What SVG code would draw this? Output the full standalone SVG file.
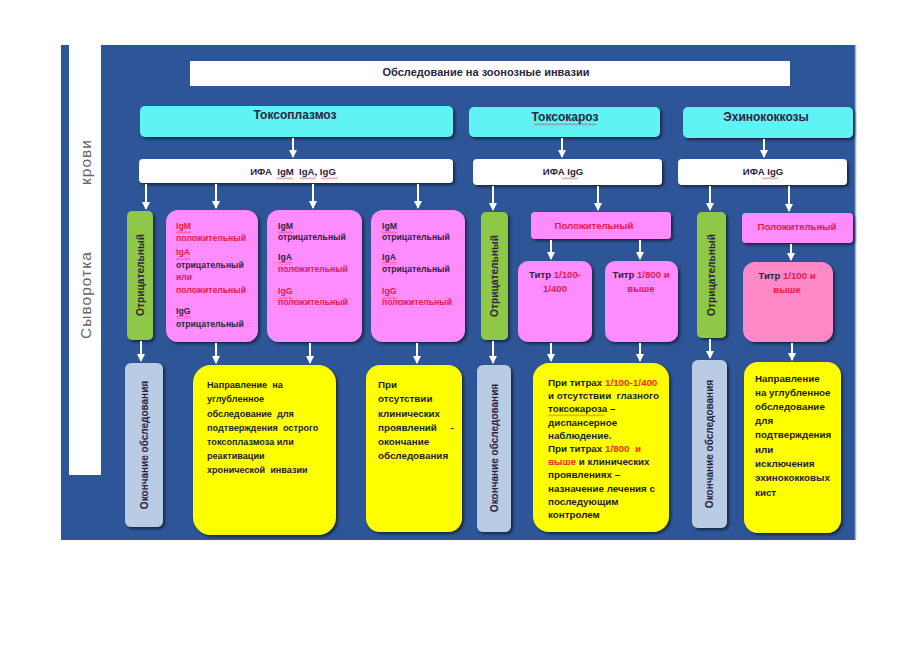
<svg xmlns="http://www.w3.org/2000/svg" width="919" height="650" viewBox="0 0 919 650">
<defs>
<filter id="sh" x="-20%" y="-20%" width="140%" height="140%">
<feDropShadow dx="2" dy="2" stdDeviation="1.5" flood-color="#000" flood-opacity="0.55"/>
</filter>
<marker id="ar" markerWidth="8" markerHeight="8" refX="7" refY="4" orient="auto" markerUnits="userSpaceOnUse" viewBox="0 0 8 8">
<path d="M0,0 L8,4 L0,8 Z" fill="#fff"/>
</marker>
<pattern id="wv" width="4" height="3" patternUnits="userSpaceOnUse">
<path d="M0,2.5 L2,0.5 L4,2.5" fill="none" stroke="#e0202a" stroke-width="0.7"/>
</pattern>
<style>
.t{font-family:"Liberation Sans",Arial,sans-serif;font-weight:bold;fill:#2b2440}
.b{font-size:9.6px}
.y{font-size:9.8px;fill:#222}
.r{fill:#e8194b}
.ry{fill:#ff2a1a}
.cy{fill:#5ef3f3;filter:url(#sh)}
.wh{fill:#fff;filter:url(#sh)}
.pk{fill:#ff8cff;filter:url(#sh)}
.gr{fill:#8fc746;filter:url(#sh)}
.lb{fill:#b9cce4;filter:url(#sh)}
.yl{fill:#ffff00;filter:url(#sh)}
.u{fill:url(#wv)}
.con line{stroke:#fff;stroke-width:2;marker-end:url(#ar)}
</style>
</defs>
<rect x="0" y="0" width="919" height="650" fill="#fff"/>
<g id="background">
<rect x="61" y="45" width="795" height="495" fill="#2e5597"/>
<line x1="855.5" y1="45" x2="855.5" y2="540" stroke="#9fb3d3" stroke-width="1.5"/>
<rect x="69" y="45" width="32" height="430" fill="#fff"/>
<text x="0" y="0" transform="translate(91,295) rotate(-90)" text-anchor="middle" font-family="Liberation Sans,Arial,sans-serif" font-size="15.5" letter-spacing="1" fill="#666">Сыворотка</text>
<text x="0" y="0" transform="translate(91,162) rotate(-90)" text-anchor="middle" font-family="Liberation Sans,Arial,sans-serif" font-size="15.5" letter-spacing="1" fill="#666">крови</text>
</g>
<g id="title">
<rect x="190" y="61" width="600" height="25" fill="#fff"/>
<text class="t" x="486" y="76" font-size="11" text-anchor="middle" fill="#222">Обследование на зоонозные инвазии</text>
</g>
<g id="toxoplasmosis">
<rect class="cy" x="140" y="106" width="313" height="31" rx="5"/>
<text class="t" x="295" y="119" font-size="12" text-anchor="middle">Токсоплазмоз</text>
</g>
<g id="toxocariasis">
<rect class="cy" x="469" y="107" width="191" height="30" rx="5"/>
<text class="t" x="565" y="121" font-size="12" text-anchor="middle">Токсокароз</text>
<rect class="u" x="534" y="123" width="62" height="3"/>
</g>
<g id="echinococcosis">
<rect class="cy" x="683" y="107" width="170" height="31" rx="5"/>
<text class="t" x="766" y="121" font-size="12" text-anchor="middle">Эхинококкозы</text>
</g>
<g id="ifa1">
<rect class="wh" x="139" y="159" width="314" height="24" rx="4"/>
<text class="t b" x="293" y="175" text-anchor="middle" xml:space="preserve">ИФА  IgM  IgA, IgG</text>
<rect class="u" x="277" y="177" width="16" height="3"/>
<rect class="u" x="300" y="177" width="16" height="3"/>
<rect class="u" x="322" y="177" width="16" height="3"/>
</g>
<g id="ifa2">
<rect class="wh" x="473" y="159" width="189" height="26" rx="4"/>
<text class="t b" x="563" y="175" text-anchor="middle">ИФА IgG</text>
<rect class="u" x="562" y="177" width="16" height="3"/>
</g>
<g id="ifa3">
<rect class="wh" x="678" y="159" width="169" height="26" rx="4"/>
<text class="t b" x="763" y="175" text-anchor="middle">ИФА IgG</text>
<rect class="u" x="762" y="177" width="16" height="3"/>
</g>
<g id="neg1">
<rect class="gr" x="127" y="211" width="26" height="129" rx="5"/>
<text class="t" transform="translate(144,275) rotate(-90)" font-size="10.2" text-anchor="middle">Отрицательный</text>
</g>
<g id="pink1">
<rect class="pk" x="166" y="210" width="92" height="132" rx="12"/>
<text class="t b" transform="matrix(0.9 0 0 1 17.6 0)"><tspan class="r" x="176" y="229">IgM</tspan><tspan class="r" x="176" y="241">положительный</tspan><tspan class="r" x="176" y="255">IgA</tspan><tspan x="176" y="268">отрицательный</tspan><tspan class="r" x="176" y="280">или</tspan><tspan class="r" x="176" y="293">положительный</tspan><tspan x="176" y="314">IgG</tspan><tspan x="176" y="327">отрицательный</tspan></text>
<rect class="u" x="176" y="231" width="15" height="3"/>
<rect class="u" x="176" y="257" width="14" height="3"/>
<rect class="u" x="176" y="316" width="14" height="3"/>
</g>
<g id="pink2">
<rect class="pk" x="267" y="210" width="95" height="132" rx="12"/>
<text class="t b" transform="matrix(0.9 0 0 1 27.8 0)"><tspan x="278" y="229">IgM</tspan><tspan x="278" y="240">отрицательный</tspan><tspan x="278" y="260">IgA</tspan><tspan class="r" x="278" y="272">положительный</tspan><tspan class="r" x="278" y="294">IgG</tspan><tspan class="r" x="278" y="305">положительный</tspan></text>
<rect class="u" x="278" y="231" width="15" height="3"/>
<rect class="u" x="278" y="262" width="14" height="3"/>
<rect class="u" x="278" y="296" width="14" height="3"/>
</g>
<g id="pink3">
<rect class="pk" x="371" y="210" width="94" height="132" rx="12"/>
<text class="t b" transform="matrix(0.9 0 0 1 38.2 0)"><tspan x="382" y="229">IgM</tspan><tspan x="382" y="240">отрицательный</tspan><tspan x="382" y="260">IgA</tspan><tspan x="382" y="272">отрицательный</tspan><tspan class="r" x="382" y="294">IgG</tspan><tspan class="r" x="382" y="305">положительный</tspan></text>
<rect class="u" x="382" y="231" width="15" height="3"/>
<rect class="u" x="382" y="262" width="14" height="3"/>
<rect class="u" x="382" y="296" width="14" height="3"/>
</g>
<g id="neg2">
<rect class="gr" x="481" y="212" width="27" height="128" rx="5"/>
<text class="t" transform="translate(498,276) rotate(-90)" font-size="10.2" text-anchor="middle">Отрицательный</text>
</g>
<g id="pos2">
<rect class="pk" x="531" y="212" width="140" height="27" rx="4"/>
<text class="t b r" x="594" y="229" text-anchor="middle">Положительный</text>
</g>
<g id="titer1">
<rect class="pk" x="518" y="261" width="74" height="81" rx="10"/>
<text class="t b" x="555" y="278" text-anchor="middle">Титр <tspan class="r">1/100-</tspan></text>
<text class="t b r" x="555" y="292" text-anchor="middle">1/400</text>
</g>
<g id="titer2">
<rect class="pk" x="605" y="261" width="73" height="81" rx="10"/>
<text class="t b" x="641" y="278" text-anchor="middle">Титр <tspan class="r">1/800 и</tspan></text>
<text class="t b r" x="641" y="292" text-anchor="middle">выше</text>
</g>
<g id="neg3">
<rect class="gr" x="697" y="212" width="29" height="126" rx="5"/>
<text class="t" transform="translate(715,275) rotate(-90)" font-size="10.2" text-anchor="middle">Отрицательный</text>
</g>
<g id="pos3">
<rect class="pk" x="742" y="213" width="111" height="30" rx="4"/>
<text class="t b r" x="797" y="230" text-anchor="middle">Положительный</text>
</g>
<g id="titer3">
<rect x="743" y="262" width="90" height="80" rx="12" fill="#ff88c8" filter="url(#sh)"/>
<text class="t b" x="787" y="279" text-anchor="middle">Титр <tspan class="r">1/100 и</tspan></text>
<text class="t b r" x="787" y="293" text-anchor="middle">выше</text>
</g>
<g id="end1">
<rect class="lb" x="125" y="363" width="38" height="164" rx="6"/>
<text class="t" transform="translate(148,445) rotate(-90)" font-size="10" text-anchor="middle" fill="#222">Окончание обследования</text>
</g>
<g id="yellow1">
<rect class="yl" x="193" y="365" width="143" height="170" rx="18"/>
<text class="t y" xml:space="preserve" transform="matrix(0.93 0 0 1 14.5 0)"><tspan x="207" y="388">Направление  на</tspan><tspan x="207" y="402">углубленное</tspan><tspan x="207" y="417">обследование  для</tspan><tspan x="207" y="431">подтверждения  острого</tspan><tspan x="207" y="445">токсоплазмоза или</tspan><tspan x="207" y="459">реактивации</tspan><tspan x="207" y="473">хронической  инвазии</tspan></text>
</g>
<g id="yellow2">
<rect class="yl" x="366" y="365" width="96" height="167" rx="14"/>
<text class="t y" xml:space="preserve"><tspan x="378" y="388">При</tspan><tspan x="378" y="402">отсутствии</tspan><tspan x="378" y="417">клинических</tspan><tspan x="378" y="431">проявлений     -</tspan><tspan x="378" y="445">окончание</tspan><tspan x="378" y="459">обследования</tspan></text>
</g>
<g id="end2">
<rect class="lb" x="477" y="365" width="34" height="167" rx="6"/>
<text class="t" transform="translate(498,448) rotate(-90)" font-size="10" text-anchor="middle" fill="#222">Окончание обследования</text>
</g>
<g id="yellow3">
<rect class="yl" x="533" y="363" width="136" height="169" rx="16"/>
<text class="t y" xml:space="preserve"><tspan x="548" y="386">При титрах <tspan class="ry">1/100-1/400</tspan></tspan><tspan x="548" y="399">и отсутствии  глазного</tspan><tspan x="548" y="412">токсокароза –</tspan><tspan x="548" y="426">диспансерное</tspan><tspan x="548" y="439">наблюдение.</tspan><tspan x="548" y="452">При титрах <tspan class="ry">1/800  и</tspan></tspan><tspan x="548" y="465"><tspan class="ry">выше</tspan> и клинических</tspan><tspan x="548" y="478">проявлениях –</tspan><tspan x="548" y="492">назначение лечения с</tspan><tspan x="548" y="505">последующим</tspan><tspan x="548" y="518">контролем</tspan></text>
<rect class="u" x="548" y="414" width="56" height="3"/>
</g>
<g id="end3">
<rect class="lb" x="692" y="360" width="35" height="168" rx="6"/>
<text class="t" transform="translate(713,444) rotate(-90)" font-size="10" text-anchor="middle" fill="#222">Окончание обследования</text>
</g>
<g id="yellow4">
<rect class="yl" x="744" y="362" width="97" height="171" rx="14"/>
<text class="t y"><tspan x="755" y="382">Направление</tspan><tspan x="755" y="396">на углубленное</tspan><tspan x="755" y="410">обследование</tspan><tspan x="755" y="424">для</tspan><tspan x="755" y="438">подтверждения</tspan><tspan x="755" y="453">или</tspan><tspan x="755" y="467">исключения</tspan><tspan x="755" y="481">эхинококковых</tspan><tspan x="755" y="496">кист</tspan></text>
</g>
<g id="connectors" class="con">
<line x1="293" y1="138" x2="293" y2="157"/>
<line x1="562" y1="138" x2="562" y2="157"/>
<line x1="764" y1="139" x2="764" y2="157"/>
<line x1="146" y1="184" x2="146" y2="209"/>
<line x1="216" y1="184" x2="216" y2="208"/>
<line x1="313" y1="184" x2="313" y2="208"/>
<line x1="418" y1="184" x2="418" y2="208"/>
<line x1="493" y1="186" x2="493" y2="210"/>
<line x1="598" y1="186" x2="598" y2="210"/>
<line x1="710" y1="186" x2="710" y2="210"/>
<line x1="789" y1="186" x2="789" y2="211"/>
<line x1="551" y1="240" x2="551" y2="259"/>
<line x1="640" y1="240" x2="640" y2="259"/>
<line x1="791" y1="244" x2="791" y2="260"/>
<line x1="141" y1="341" x2="141" y2="361"/>
<line x1="216" y1="343" x2="216" y2="363"/>
<line x1="310" y1="343" x2="310" y2="363"/>
<line x1="417" y1="343" x2="417" y2="363"/>
<line x1="493" y1="341" x2="493" y2="363"/>
<line x1="551" y1="343" x2="551" y2="361"/>
<line x1="640" y1="343" x2="640" y2="361"/>
<line x1="710" y1="339" x2="710" y2="358"/>
<line x1="792" y1="343" x2="792" y2="360"/>
</g>
</svg>
